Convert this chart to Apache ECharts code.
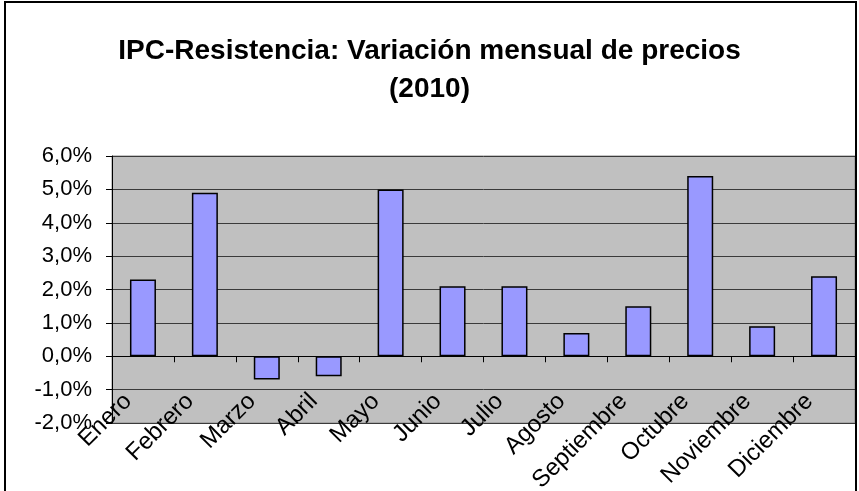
<!DOCTYPE html>
<html>
<head>
<meta charset="utf-8">
<script src="https://cdn.jsdelivr.net/npm/echarts@6/dist/echarts.min.js"></script>
<style>
  html, body { margin: 0; padding: 0; background: #fff; }
  #chart { width: 859px; height: 491px; }
</style>
</head>
<body>
<div id="chart"></div>
<script>
// Monthly price variation, Resistencia CPI, 2010 (percent)
const months = ['Enero', 'Febrero', 'Marzo', 'Abril', 'Mayo', 'Junio', 'Julio',
  'Agosto', 'Septiembre', 'Octubre', 'Noviembre', 'Diciembre'];
const variation = [2.3, 4.9, -0.7, -0.6, 5.0, 2.1, 2.1, 0.7, 1.5, 5.4, 0.9, 2.4];
const yMin = -2;
const yMax = 6;
const yStep = 1;

const FONT = "'Liberation Sans', Arial, sans-serif";

const chart = echarts.init(document.getElementById('chart'));
chart.setOption({
  animation: false,
  backgroundColor: '#ffffff',
  title: {
    text: 'IPC-Resistencia: Variación mensual de precios\n(2010)',
    left: 'center',
    top: 27,
    textStyle: {
      fontFamily: FONT,
      fontSize: 28,
      fontWeight: 'bold',
      color: '#000',
      lineHeight: 38
    }
  },
  grid: {
    left: 112,
    right: 4,
    top: 156,
    bottom: 68,
    outerBoundsMode: 'none',
    containLabel: false,
    show: true,
    backgroundColor: '#c0c0c0',
    borderColor: '#8c8c8c',
    borderWidth: 1
  },
  xAxis: {
    type: 'category',
    data: months,
    axisLine: { onZero: true, lineStyle: { color: '#000', width: 1 } },
    axisTick: { show: true, length: 6, lineStyle: { color: '#000' } },
    axisLabel: {
      rotate: 45,
      margin: -19,
      verticalAlign: 'bottom',
      padding: [0, 6, 3, 0],
      fontFamily: FONT,
      fontSize: 24,
      color: '#000',
      interval: 0
    },
    splitLine: { show: false }
  },
  yAxis: {
    type: 'value',
    min: yMin,
    max: yMax,
    interval: yStep,
    axisLine: { show: true, lineStyle: { color: '#000', width: 1 } },
    axisTick: { show: true, length: 6, lineStyle: { color: '#000' } },
    axisLabel: {
      margin: 20,
      fontFamily: FONT,
      fontSize: 22,
      color: '#000',
      formatter: v => v.toFixed(1).replace('.', ',') + '%'
    },
    splitLine: { show: true, lineStyle: { color: '#3a3a3a', width: 1 } }
  },
  series: [{
    type: 'bar',
    data: variation,
    barWidth: 26,
    itemStyle: {
      color: '#9999ff',
      borderColor: '#000',
      borderWidth: 1.5
    }
  }],
  graphic: [{
    type: 'rect',
    shape: { x: 5, y: 2, width: 851, height: 520 },
    style: { fill: 'none', stroke: '#000', lineWidth: 2 },
    silent: true
  }]
});
</script>
</body>
</html>
